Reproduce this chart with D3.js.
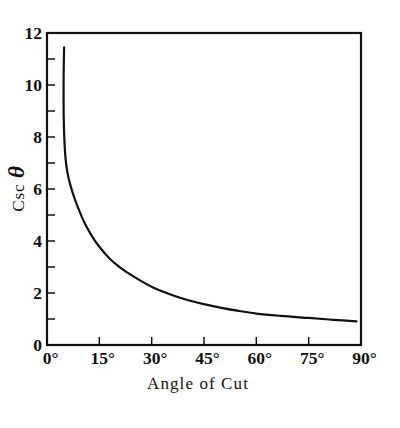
<!DOCTYPE html>
<html><head><meta charset="utf-8">
<script src="https://cdn.jsdelivr.net/npm/d3@7"></script>
<style>
html,body{margin:0;padding:0;background:#fff;}
svg{display:block;}
</style></head>
<body>
<script>
// Data (curve traced from top to bottom)
const angles = [4.9, 4.78, 4.75, 4.8, 4.95, 5.3, 5.9, 6.8, 8.0, 9.5, 11, 13, 15, 18, 21, 25, 30, 35, 40, 45, 50, 55, 60, 67, 75, 82, 88.7];
const cscValues = [11.45, 10.5, 9.5, 8.7, 8.0, 7.2, 6.6, 6.1, 5.6, 5.08, 4.63, 4.16, 3.78, 3.32, 2.98, 2.62, 2.24, 1.96, 1.74, 1.57, 1.43, 1.31, 1.21, 1.12, 1.04, 0.97, 0.91];
const xTicks = [0, 15, 30, 45, 60, 75, 90];
const yMinorTicks = [0,1,2,3,4,5,6,7,8,9,10,11,12];
const yTickLabels = [0, 2, 4, 6, 8, 10, 12];

const W = 400, H = 428;
const m = {left: 47, top: 33, right: 361, bottom: 345};

const svg = d3.select("body").append("svg").attr("width", W).attr("height", H);

const x = d3.scaleLinear().domain([0, 90]).range([m.left, m.right]);
const y = d3.scaleLinear().domain([0, 12]).range([m.bottom, m.top]);

const serif = "'Liberation Serif', 'DejaVu Serif', serif";

// ticks (inward)
const g = svg.append("g");
g.selectAll(".yt").data(yMinorTicks).join("line")
  .attr("x1", m.left).attr("x2", m.left + 8)
  .attr("y1", d => y(d)).attr("y2", d => y(d))
  .attr("stroke", "#111").attr("stroke-width", 1.5);
g.selectAll(".xt").data(xTicks).join("line")
  .attr("x1", d => x(d)).attr("x2", d => x(d))
  .attr("y1", m.bottom).attr("y2", m.bottom - 8)
  .attr("stroke", "#111").attr("stroke-width", 1.5);

// frame
svg.append("rect")
  .attr("x", m.left).attr("y", m.top)
  .attr("width", m.right - m.left).attr("height", m.bottom - m.top)
  .attr("fill", "none").attr("stroke", "#111").attr("stroke-width", 2.2);

// y tick labels
svg.selectAll(".yl").data(yTickLabels).join("text")
  .attr("x", m.left - 5).attr("y", d => y(d))
  .attr("dy", "0.36em")
  .attr("text-anchor", "end")
  .attr("font-family", serif).attr("font-weight", "bold").attr("font-size", 17.5)
  .attr("fill", "#111")
  .text(d => d);

// x tick labels (numeral centered on tick, degree sign after)
const xl = svg.selectAll(".xl").data(xTicks).join("text")
  .attr("y", 364)
  .attr("font-family", serif).attr("font-weight", "bold").attr("font-size", 17.5)
  .attr("fill", "#111");
xl.each(function(d) {
  const t = d3.select(this);
  t.append("tspan").text(String(d));
  t.append("tspan").text("°");
  const w = this.firstChild.getComputedTextLength();
  t.attr("x", x(d) - w / 2);
});

// x axis title
svg.append("text")
  .attr("x", 198).attr("y", 389)
  .attr("text-anchor", "middle")
  .attr("font-family", serif).attr("font-size", 17)
  .attr("letter-spacing", "1.1px")
  .attr("fill", "#111")
  .text("Angle of Cut");

// y axis title
const yt = svg.append("text")
  .attr("transform", `translate(24, ${(m.top + m.bottom) / 2}) rotate(-90)`)
  .attr("text-anchor", "middle")
  .attr("font-family", serif).attr("font-size", 17)
  .attr("fill", "#111");
yt.append("tspan").attr("letter-spacing", "1px").text("Csc ");
yt.append("tspan").attr("font-weight", "bold").attr("font-style", "italic").attr("font-size", 23).text("θ");

// curve
const pts = angles.map((a, i) => [a, cscValues[i]]);
const line = d3.line()
  .x(d => x(d[0])).y(d => y(d[1]))
  .curve(d3.curveCatmullRom.alpha(0.5));
svg.append("path")
  .attr("d", line(pts))
  .attr("fill", "none").attr("stroke", "#111").attr("stroke-width", 2.2)
  .attr("stroke-linecap", "round");
</script>
</body></html>
